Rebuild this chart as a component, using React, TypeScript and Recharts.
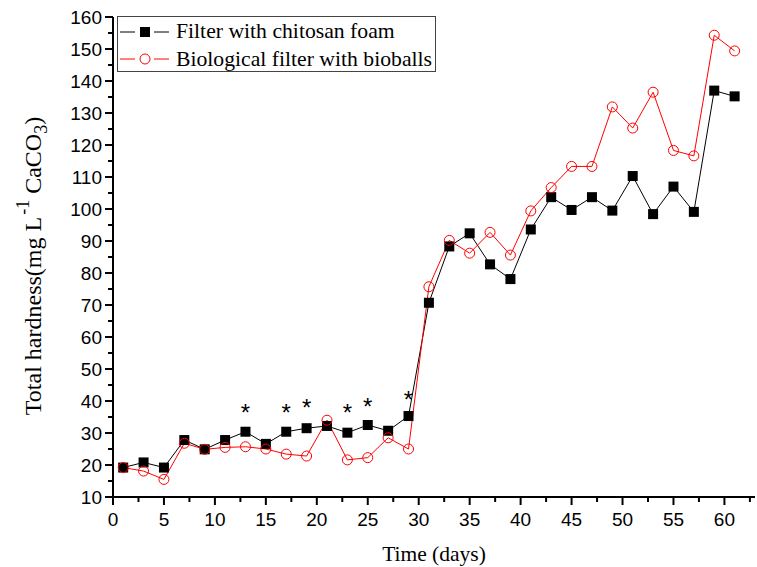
import React from "react"
import { ComposedChart, Line, Scatter, XAxis, YAxis, Legend } from "recharts"

const days = [1, 3, 5, 7, 9, 11, 13, 15, 17, 19, 21, 23, 25, 27, 29, 31, 33, 35, 37, 39, 41, 43, 45, 47, 49, 51, 53, 55, 57, 59, 61]

const chitosan = [
  19.2, 20.8, 19.2, 27.8, 24.9, 27.8, 30.4, 26.6, 30.4, 31.5, 32.2, 30.1, 32.5, 30.7, 35.3,
  70.7, 88.3, 92.4, 82.7, 78.1, 93.6, 103.7, 99.7, 103.7, 99.5, 110.3, 98.4, 107, 99.1, 137, 135.2,
]

const bioballs = [
  19.2, 18.1, 15.5, 26.8, 24.9, 25.5, 25.7, 25, 23.4, 22.8, 34, 21.6, 22.3, 28.5, 25,
  75.7, 90.2, 86.2, 92.7, 85.6, 99.4, 106.7, 113.3, 113.3, 131.9, 125.3, 136.5, 118.3, 116.6, 154.3, 149.4,
]

// significance marks
const starDays = [13, 17, 19, 23, 25, 29]
const starLevel = [38.2, 38.2, 39.6, 38.2, 40.1, 42.2]

const xTicks = [0, 2.5, 5, 7.5, 10, 12.5, 15, 17.5, 20, 22.5, 25, 27.5, 30, 32.5, 35, 37.5, 40, 42.5, 45, 47.5, 50, 52.5, 55, 57.5, 60, 62.5]
const yTicks = [10, 15, 20, 25, 30, 35, 40, 45, 50, 55, 60, 65, 70, 75, 80, 85, 90, 95, 100, 105, 110, 115, 120, 125, 130, 135, 140, 145, 150, 155, 160]

const seriesNames = ["Filter with chitosan foam", "Biological filter with bioballs"]

const rows = days.map((d, i) => ({ day: d, chitosan: chitosan[i], bioballs: bioballs[i] }))
const starRows = starDays.map((d, i) => ({ day: d, star: starLevel[i] }))

const RED = "#ff0000"
const serif = "'Liberation Serif', 'Times New Roman', serif"
const sans = "'Liberation Sans', Arial, sans-serif"

const SquareDot = (p: any) => {
  if (p.cx == null || p.cy == null) return <g key={p.index} />
  return <rect key={p.index} x={p.cx - 5} y={p.cy - 5} width={10} height={10} fill="#000" />
}

const Star = (p: any) => (
  <text x={p.cx} y={p.cy + 14} textAnchor="middle" fontFamily={sans} fontSize={24} fill="#000">
    *
  </text>
)

const XTick = (p: any) => {
  const v = p.payload.value
  const major = v % 5 === 0
  return (
    <g>
      <line x1={p.x} x2={p.x} y1={p.y} y2={p.y + (major ? 8 : 5)} stroke="#000" strokeWidth={2} />
      {major && (
        <text x={p.x} y={p.y + 29} textAnchor="middle" fontFamily={sans} fontSize={19} fill="#000">
          {v}
        </text>
      )}
    </g>
  )
}

const YTick = (p: any) => {
  const v = p.payload.value
  const major = v % 10 === 0
  return (
    <g>
      <line x1={p.x - (major ? 8 : 5)} x2={p.x} y1={p.y} y2={p.y} stroke="#000" strokeWidth={2} />
      {major && (
        <text x={p.x - 11} y={p.y + 7} textAnchor="end" fontFamily={sans} fontSize={19} fill="#000">
          {v}
        </text>
      )}
    </g>
  )
}

const YTitle = () => (
  <text transform="rotate(-90)" x={-266} y={41} textAnchor="middle" fontFamily={serif} fontSize={24} fill="#000">
    Total hardness(mg L
    <tspan dy={-12} dx={2} fontSize={18}>-1</tspan>
    <tspan dy={12}>{"  CaCO"}</tspan>
    <tspan dy={6} fontSize={18}>3</tspan>
    <tspan dy={-6}>)</tspan>
  </text>
)

const XTitle = () => (
  <text x={434} y={561} textAnchor="middle" fontFamily={serif} fontSize={21.5} fill="#000">
    Time (days)
  </text>
)

const LegendBox = () => (
  <div style={{ border: "1px solid #444", width: 317, height: 54, background: "#fff" }}>
    <svg width={317} height={54}>
      <line x1={2} x2={17} y1={15} y2={15} stroke="#000" strokeWidth={1} />
      <rect x={22} y={10} width={10} height={10} fill="#000" />
      <line x1={36} x2={51} y1={15} y2={15} stroke="#000" strokeWidth={1} />
      <text x={58} y={21} fontFamily={serif} fontSize={21.7} fill="#000">{seriesNames[0]}</text>
      <line x1={2} x2={17} y1={42} y2={42} stroke={RED} strokeWidth={1} />
      <circle cx={27} cy={42} r={5} fill="none" stroke={RED} strokeWidth={1} />
      <line x1={36} x2={51} y1={42} y2={42} stroke={RED} strokeWidth={1} />
      <text x={58} y={49} fontFamily={serif} fontSize={21.7} fill="#000">{seriesNames[1]}</text>
    </svg>
  </div>
)

export default function App() {
  return (
    <div style={{ position: "absolute", left: 0, top: 0, background: "#fff" }}>
      <ComposedChart width={757} height={567} data={rows} margin={{ top: 17, right: 2, left: 53, bottom: 30 }}>
        <XAxis
          dataKey="day"
          type="number"
          domain={[0, 63]}
          ticks={xTicks}
          interval={0}
          height={40}
          tickSize={0}
          tickMargin={0}
          tickLine={false}
          tick={<XTick />}
          axisLine={{ stroke: "#000", strokeWidth: 2 }}
          label={{ content: () => <XTitle /> }}
        />
        <YAxis
          type="number"
          domain={[10, 160]}
          ticks={yTicks}
          interval={0}
          width={60}
          tickSize={0}
          tickMargin={0}
          tickLine={false}
          tick={<YTick />}
          axisLine={{ stroke: "#000", strokeWidth: 2 }}
          label={{ content: () => <YTitle /> }}
        />
        <Legend
          layout="vertical"
          align="center"
          verticalAlign="middle"
          content={() => <LegendBox />}
          wrapperStyle={{ left: 117, top: 16, width: 319, height: 56 }}
        />
        <Line
          dataKey="chitosan"
          name={seriesNames[0]}
          stroke="#000"
          strokeWidth={1}
          dot={SquareDot}
          activeDot={false}
          isAnimationActive={false}
        />
        <Line
          dataKey="bioballs"
          name={seriesNames[1]}
          stroke={RED}
          strokeWidth={1}
          dot={{ r: 5, fill: "none", stroke: RED, strokeWidth: 1 }}
          activeDot={false}
          isAnimationActive={false}
        />
        <Scatter data={starRows} dataKey="star" shape={Star} legendType="none" isAnimationActive={false} />
      </ComposedChart>
    </div>
  )
}
